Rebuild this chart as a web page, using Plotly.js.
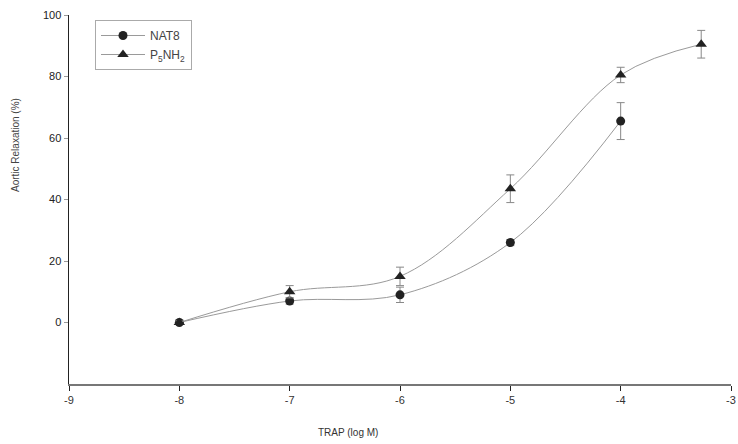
<!DOCTYPE html>
<html>
<head>
<meta charset="utf-8">
<script src="https://cdn.plot.ly/plotly-3.0.1.min.js"></script>
<style>html,body{margin:0;padding:0;background:#fff;}#chart{width:738px;height:444px;}</style>
</head>
<body>
<div id="chart"></div>
<script>
// Data
var natX = [-8, -7, -6, -5, -4];
var natY = [0, 7, 9, 26, 65.5];
var natErr = [0.5, 1, 2.5, 1, 6];

var p5X = [-8, -7, -6, -5, -4, -3.27];
var p5Y = [0, 10, 15, 43.5, 80.5, 90.5];
var p5Err = [0.5, 2, 3, 4.5, 2.5, 4.5];

var xTicks = [-9, -8, -7, -6, -5, -4, -3];
var yTicks = [0, 20, 40, 60, 80, 100];

var traces = [
  {
    x: natX, y: natY, name: 'NAT8', type: 'scatter', mode: 'lines+markers',
    line: {shape: 'spline', smoothing: 1, color: '#9a9a9a', width: 1},
    marker: {symbol: 'circle', size: 9, color: '#222'},
    error_y: {type: 'data', array: natErr, visible: true, color: '#888', thickness: 1, width: 4}
  },
  {
    x: p5X, y: p5Y, name: 'P<sub>5</sub>NH<sub>2</sub>', type: 'scatter', mode: 'lines+markers',
    line: {shape: 'spline', smoothing: 1, color: '#9a9a9a', width: 1},
    marker: {symbol: 'triangle-up', size: 10, color: '#222'},
    error_y: {type: 'data', array: p5Err, visible: true, color: '#888', thickness: 1, width: 4}
  }
];

var layout = {
  width: 738, height: 444,
  margin: {l: 69, r: 7, t: 15, b: 60},
  paper_bgcolor: '#fff', plot_bgcolor: '#fff',
  font: {family: 'Liberation Sans, Arial, sans-serif', size: 11, color: '#222'},
  showlegend: true,
  legend: {
    x: (95 - 69) / 662, y: (384 - 20) / 369, xanchor: 'left', yanchor: 'top',
    xref: 'paper', yref: 'paper',
    bordercolor: '#aaa', borderwidth: 1, bgcolor: '#fff',
    font: {size: 12, color: '#444'}, itemwidth: 44, tracegroupgap: 0
  },
  xaxis: {
    range: [-9, -3], tickvals: xTicks, ticktext: xTicks.map(String),
    showgrid: false, zeroline: false, showline: true, linecolor: '#777', linewidth: 2,
    ticks: 'outside', ticklen: 5, tickcolor: '#222', tickwidth: 1,
    tickfont: {size: 11, color: '#333'}
  },
  yaxis: {
    range: [-20, 100], tickvals: yTicks, ticktext: yTicks.map(String),
    showgrid: false, zeroline: false, showline: true, linecolor: '#222', linewidth: 1.5,
    ticks: 'outside', ticklen: 4, tickcolor: '#999', tickwidth: 1,
    tickfont: {size: 11, color: '#222'}
  },
  annotations: [
    {text: 'TRAP (log M)', xref: 'paper', yref: 'paper', x: (348 - 69) / 662, y: -(432 - 384) / 369,
     showarrow: false, font: {size: 10, color: '#333'}, xanchor: 'center', yanchor: 'middle'},
    {text: 'Aortic Relaxation (%)', xref: 'paper', yref: 'paper', x: -(69 - 15) / 662, y: (384 - 145) / 369,
     showarrow: false, textangle: -90, font: {size: 10, color: '#444'}, xanchor: 'center', yanchor: 'middle'}
  ]
};

Plotly.newPlot('chart', traces, layout, {displayModeBar: false, staticPlot: true});
</script>
</body>
</html>
